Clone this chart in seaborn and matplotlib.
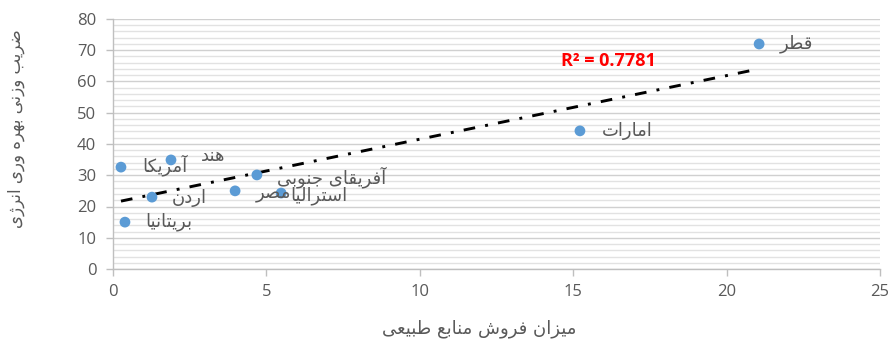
import numpy as np
import pandas as pd
import matplotlib
matplotlib.use("Agg")
import matplotlib.pyplot as plt
import seaborn as sns
from matplotlib.ticker import MultipleLocator

# ---------------- data ----------------
countries = ["قطر", "امارات", "آمریکا", "هند", "آفریقای جنوبی", "مصر", "استرالیا", "اردن", "بریتانیا"]
sales = [21.06, 15.22, 0.26, 1.89, 4.69, 3.98, 5.48, 1.27, 0.39]
weight = [72.0, 44.2, 32.6, 34.9, 30.1, 25.0, 24.3, 23.0, 15.0]
x_ticks = [0, 5, 10, 15, 20, 25]
y_ticks = [0, 10, 20, 30, 40, 50, 60, 70, 80]
x_title = "میزان فروش منابع طبیعی"
y_title = "ضریب وزنی بهره وری انرژی"
r2_text = "R² = 0.7781"

# label offsets in pixels (styling)
label_dx = [21, 22, 21, 30, 20, 21, 9, 20, 20]
label_dy = [0, 0, 2, 4, -2, -3, -3, -1, 0]

# ---------------- minimal Persian shaping for rendering ----------------
FORMS = {
    "ا": ("\uFE8D", "\uFE8E", None, None),
    "آ": ("\uFE81", "\uFE82", None, None),
    "ب": ("\uFE8F", "\uFE90", "\uFE91", "\uFE92"),
    "ت": ("\uFE95", "\uFE96", "\uFE97", "\uFE98"),
    "ج": ("\uFE9D", "\uFE9E", "\uFE9F", "\uFEA0"),
    "د": ("\uFEA9", "\uFEAA", None, None),
    "ر": ("\uFEAD", "\uFEAE", None, None),
    "ز": ("\uFEAF", "\uFEB0", None, None),
    "ژ": ("\uFB8A", "\uFB8B", None, None),
    "س": ("\uFEB1", "\uFEB2", "\uFEB3", "\uFEB4"),
    "ش": ("\uFEB5", "\uFEB6", "\uFEB7", "\uFEB8"),
    "ص": ("\uFEB9", "\uFEBA", "\uFEBB", "\uFEBC"),
    "ض": ("\uFEBD", "\uFEBE", "\uFEBF", "\uFEC0"),
    "ط": ("\uFEC1", "\uFEC2", "\uFEC3", "\uFEC4"),
    "ع": ("\uFEC9", "\uFECA", "\uFECB", "\uFECC"),
    "ف": ("\uFED1", "\uFED2", "\uFED3", "\uFED4"),
    "ق": ("\uFED5", "\uFED6", "\uFED7", "\uFED8"),
    "ک": ("\uFB8E", "\uFB8F", "\uFB90", "\uFB91"),
    "ل": ("\uFEDD", "\uFEDE", "\uFEDF", "\uFEE0"),
    "م": ("\uFEE1", "\uFEE2", "\uFEE3", "\uFEE4"),
    "ن": ("\uFEE5", "\uFEE6", "\uFEE7", "\uFEE8"),
    "ه": ("\uFEE9", "\uFEEA", "\uFEEB", "\uFEEC"),
    "و": ("\uFEED", "\uFEEE", None, None),
    "ی": ("\uFBFC", "\uFBFD", "\uFBFE", "\uFBFF"),
}


def shape(text):
    chars = list(text)
    out = []
    for i, c in enumerate(chars):
        if c not in FORMS:
            out.append(c)
            continue
        f = FORMS[c]
        prev = chars[i - 1] if i > 0 else None
        nxt = chars[i + 1] if i + 1 < len(chars) else None
        jp = prev in FORMS and FORMS[prev][2] is not None
        jn = f[2] is not None and nxt in FORMS
        if jp and jn:
            g = f[3]
        elif jp:
            g = f[1]
        elif jn:
            g = f[2]
        else:
            g = f[0]
        out.append(g)
    return "".join(reversed(out))


# ---------------- plot ----------------
sns.set_theme(style="white")
plt.rcParams["font.family"] = ["Open Sans", "DejaVu Sans"]

df = pd.DataFrame({"country": countries, "sales": sales, "weight": weight})

fig = plt.figure(figsize=(8.88, 3.4), dpi=100)
ax = fig.add_axes([113 / 888, 1 - 269 / 340, (880 - 113) / 888, (269 - 19) / 340])

gray = "#595959"

sns.regplot(data=df, x="sales", y="weight", ax=ax, scatter=False, ci=None,
            truncate=True,
            line_kws=dict(color="black", lw=2.1, linestyle=(0, (4, 3.5, 1, 3.5))))
sns.scatterplot(data=df, x="sales", y="weight", ax=ax, color="#5B9BD5",
                s=60, edgecolor="none", zorder=4)

for i, row in df.iterrows():
    ax.annotate(shape(row["country"]), (row["sales"], row["weight"]),
                xytext=(label_dx[i], label_dy[i]), textcoords="offset pixels",
                ha="left", va="center", fontsize=13, color=gray,
                family=["DejaVu Sans"], zorder=5)

ax.text(14.6, 66.5, r2_text, color="#FF0000", fontsize=13, fontweight="bold",
        ha="left", va="center", family=["Open Sans", "DejaVu Sans"])

ax.set_xlim(0, 25)
ax.set_ylim(0, 80)
ax.set_xticks(x_ticks)
ax.set_yticks(y_ticks)
ax.yaxis.set_minor_locator(MultipleLocator(2))

for s in ["top", "right"]:
    ax.spines[s].set_visible(False)
for s in ["left", "bottom"]:
    ax.spines[s].set_color("#BFBFBF")
    ax.spines[s].set_linewidth(1)

ax.tick_params(axis="both", which="major", direction="out", length=5, width=1,
               color="#BFBFBF", labelcolor=gray, labelsize=12,
               left=True, bottom=True)
ax.tick_params(axis="y", which="minor", length=0, left=True)
ax.tick_params(axis="x", pad=6)
ax.tick_params(axis="y", pad=7)

ax.yaxis.grid(True, which="major", color="#D0D0D0", lw=1)
ax.yaxis.grid(True, which="minor", color="#E2E2E2", lw=1)
ax.xaxis.grid(False, which="both")
ax.set_axisbelow(True)

ax.set_xlabel(shape(x_title), fontsize=13, color=gray, family=["DejaVu Sans"])
ax.set_ylabel(shape(y_title), fontsize=12, color=gray, family=["DejaVu Sans"])
ax.xaxis.set_label_coords(0.478, -0.2)
ax.yaxis.set_label_coords(-0.115, 0.56)

fig.savefig("out.png", dpi=100)
